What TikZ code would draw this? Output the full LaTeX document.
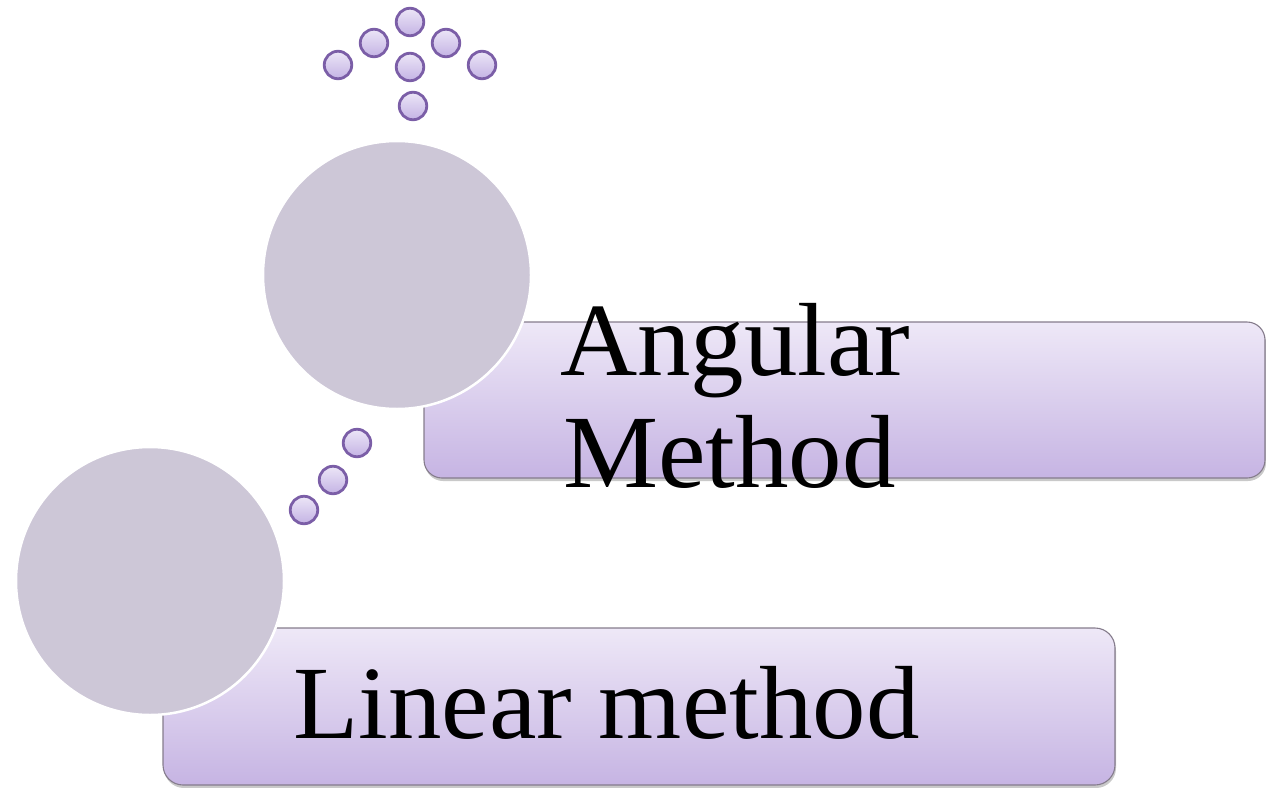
\documentclass[tikz,border=0pt]{standalone}
\usepackage{fontspec}
\setmainfont{Liberation Serif}
\usetikzlibrary{shadows}
\definecolor{boxtop}{HTML}{EEE8F7}
\definecolor{boxbot}{HTML}{C6B4E3}
\definecolor{boxedge}{HTML}{857C8C}
\definecolor{bigfill}{HTML}{CDC7D7}
\definecolor{dottop}{HTML}{ECE6F7}
\definecolor{dotbot}{HTML}{C4B3E4}
\definecolor{dotedge}{HTML}{7B5EA7}
\tikzset{
  labelbox/.style={draw=boxedge, line width=1.1pt, top color=boxtop, bottom color=boxbot,
    rounded corners=18pt, inner sep=0pt,
    drop shadow={shadow xshift=1pt, shadow yshift=-3pt, opacity=0.3, fill=black!70}},
  bigdot/.style={circle, fill=bigfill, draw=white, line width=2.5pt, minimum size=268pt, inner sep=0pt},
  smalldot/.style={circle, top color=dottop, bottom color=dotbot, draw=dotedge, line width=2.8pt, minimum size=27.5pt, inner sep=0pt},
  bigtext/.style={inner sep=0pt, anchor=base west, font=\fontsize{104}{112}\selectfont, transform shape, xscale=1.028}
}
\begin{document}
\begin{tikzpicture}[x=1pt, y=-1pt]
\useasboundingbox (0,0) rectangle (1266,787);
% boxes
\node[labelbox, minimum width=841pt, minimum height=156pt] (abox) at (844.5,400) {};
\node[labelbox, rounded corners=20pt, minimum width=952pt, minimum height=157pt] (lbox) at (639,706.5) {};
% big circles
\node[bigdot] (bc1) at (397,275) {};
\node[bigdot] (bc2) at (150,581) {};
% texts
\node[bigtext] (at1) at (560,375) {Angular};
\node[bigtext] (at2) at (563,487) {Method};
\node[bigtext] (lt) at (293,738) {Linear method};
% small circles, top group
\node[smalldot] (s1) at (410,22) {};
\node[smalldot] (s2) at (374,43) {};
\node[smalldot] (s3) at (446,43) {};
\node[smalldot] (s4) at (410,67) {};
\node[smalldot] (s5) at (338,65) {};
\node[smalldot] (s6) at (482,65) {};
\node[smalldot] (s7) at (413,106) {};
% small circles, diagonal
\node[smalldot] (d1) at (357,443) {};
\node[smalldot] (d2) at (333,480) {};
\node[smalldot] (d3) at (304,510) {};
\end{tikzpicture}
\end{document}
